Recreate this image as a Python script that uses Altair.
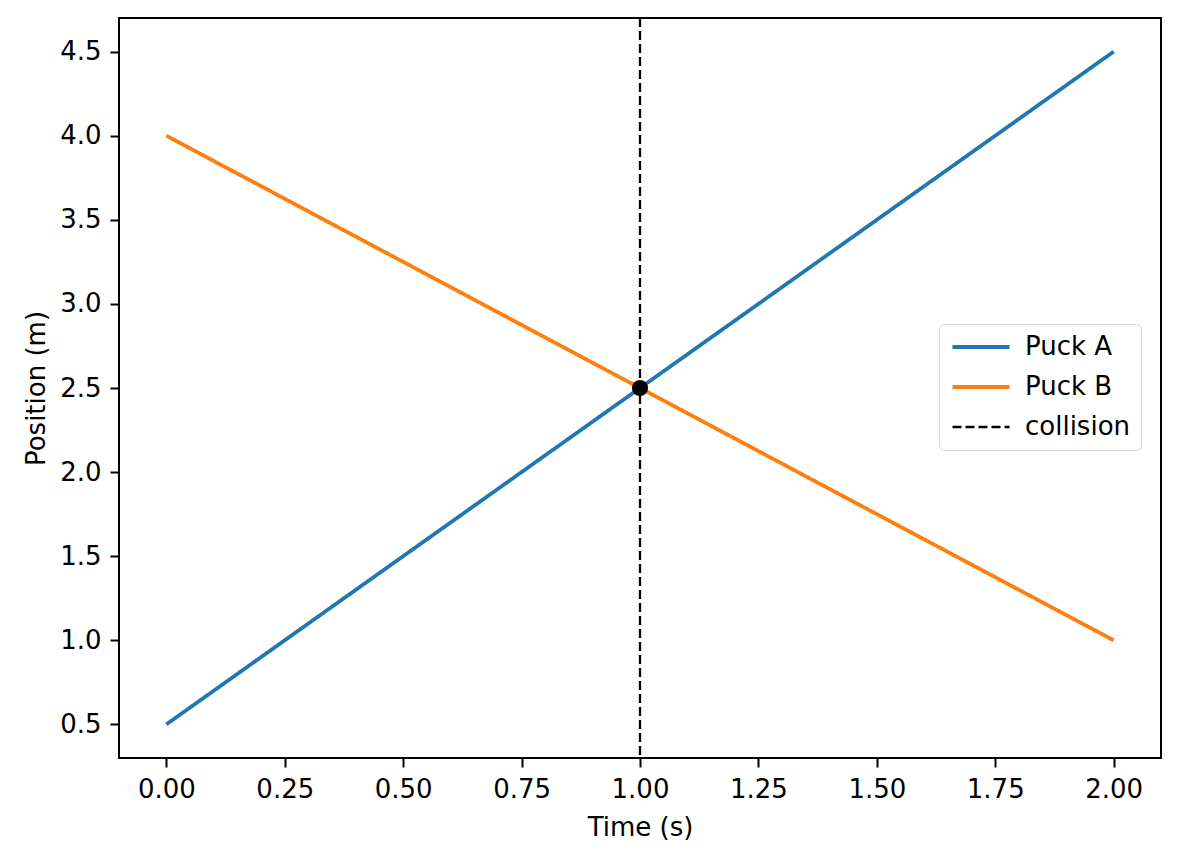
import altair as alt
import pandas as pd

# Data
series_names = ["Puck A", "Puck B"]
times = [0.0, 2.0]
puck_a = [0.5, 4.5]
puck_b = [4.0, 1.0]
collision_time = [1.0]
collision_pos = [2.5]
x_ticks = [0.0, 0.25, 0.5, 0.75, 1.0, 1.25, 1.5, 1.75, 2.0]
y_ticks = [0.5, 1.0, 1.5, 2.0, 2.5, 3.0, 3.5, 4.0, 4.5]

rows = []
for name, vals in zip(series_names, [puck_a, puck_b]):
    for t, v in zip(times, vals):
        rows.append({"series": name, "t": t, "x": v})
lines_df = pd.DataFrame(rows)
coll_df = pd.DataFrame({"series": ["collision"], "t": collision_time})
pt_df = pd.DataFrame({"t": collision_time, "x": collision_pos})

legend_domain = ["Puck A", "Puck B", "collision"]
FONT = "DejaVu Sans"

xscale = alt.Scale(domain=[-0.1, 2.1], nice=False, zero=False)
yscale = alt.Scale(domain=[0.3, 4.7], nice=False, zero=False)

xaxis = alt.Axis(title="Time (s)", values=x_ticks, format=".2f")
yaxis = alt.Axis(title="Position (m)", values=y_ticks, format=".1f")

color = alt.Color(
    "series:N",
    scale=alt.Scale(domain=legend_domain, range=["#1f77b4", "#ff7f0e", "#000000"]),
    legend=alt.Legend(
        title=None,
        orient="none",
        legendX=820,
        legendY=306,
        symbolType="M-1,0H5",
        symbolSize=361,
        fillColor="white",
        strokeColor="#d6d6d6",
        cornerRadius=5,
        padding=10,
        labelFontSize=26,
        labelFont=FONT,
        labelColor="black",
        labelOffset=50,
        rowPadding=14,
    ),
)
dash = alt.StrokeDash(
    "series:N",
    scale=alt.Scale(domain=legend_domain, range=[[1, 0], [1, 0], [9, 4]]),
    legend=alt.Legend(title=None),
)
width_enc = alt.StrokeWidth(
    "series:N",
    scale=alt.Scale(type="ordinal", domain=legend_domain, range=[3.8, 3.8, 2.3]),
    legend=alt.Legend(title=None),
)

lines = alt.Chart(lines_df).mark_line().encode(
    x=alt.X("t:Q", scale=xscale, axis=xaxis),
    y=alt.Y("x:Q", scale=yscale, axis=yaxis),
    color=color,
    strokeDash=dash,
    strokeWidth=width_enc,
    detail="series:N",
)

rule = alt.Chart(coll_df).mark_rule().encode(
    x=alt.X("t:Q", scale=xscale),
    color=color,
    strokeDash=dash,
    strokeWidth=width_enc,
)

point = alt.Chart(pt_df).mark_point(filled=True, color="black", size=260, opacity=1).encode(
    x=alt.X("t:Q", scale=xscale),
    y=alt.Y("x:Q", scale=yscale),
)

chart = (
    alt.layer(lines, rule, point)
    .properties(
        width=1042,
        height=740,
        autosize=alt.AutoSizeParams(type="none"),
        padding={"left": 111, "top": 10, "right": 10, "bottom": 95},
    )
    .configure_view(stroke="black", strokeWidth=2)
    .configure_axis(
        grid=False,
        domain=False,
        tickColor="black",
        tickWidth=2,
        tickSize=9,
        labelFont=FONT,
        labelFontSize=26,
        labelColor="black",
        labelPadding=9,
        titleFont=FONT,
        titleFontSize=26,
        titleFontWeight="normal",
        titleColor="black",
    )
    .configure_axisX(titlePadding=12)
    .configure_axisY(titlePadding=10)
)

chart.save("out.html", embed_options={"renderer": "svg", "actions": False})
